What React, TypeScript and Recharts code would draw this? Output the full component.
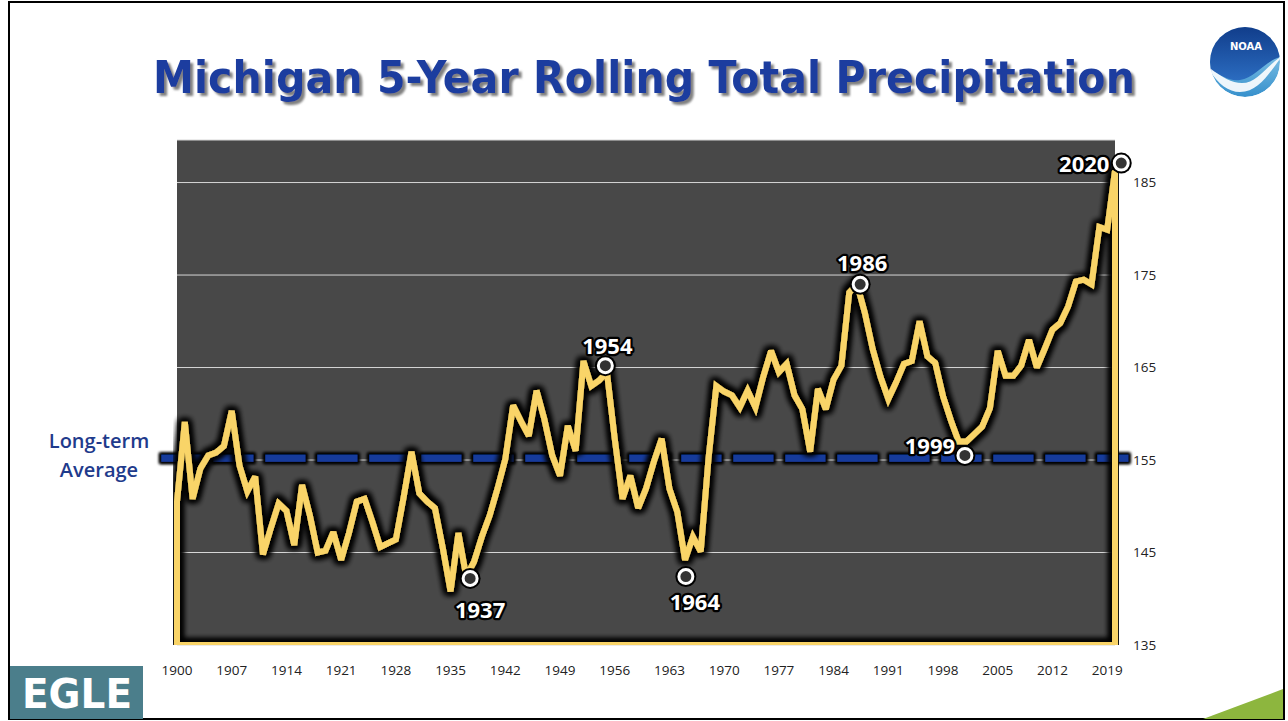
import React from "react";
import {
  ComposedChart,
  Line,
  XAxis,
  YAxis,
  CartesianGrid,
  ReferenceLine,
  ReferenceDot,
} from "recharts";

// 5-year rolling total precipitation (inches), 1900-2020
const years: number[] = Array.from({ length: 121 }, (_, i) => 1900 + i);
const precipitation: number[] = [
  150.5, 159.1, 150.8, 154.1, 155.5, 155.8, 156.5, 160.3, 154.4, 151.6,
  153.2, 144.8, 147.6, 150.3, 149.5, 145.8, 152.3, 149.0, 145.0, 145.2,
  147.2, 144.2, 147.1, 150.5, 150.8, 148.3, 145.6, 146.0, 146.4, 151.0,
  155.9, 151.4, 150.5, 149.8, 145.5, 140.8, 147.1, 142.4, 144.0, 146.7,
  149.0, 151.9, 155.1, 160.9, 159.2, 157.6, 162.5, 159.4, 155.5, 153.3,
  158.7, 156.0, 165.7, 163.0, 163.6, 164.5, 157.3, 150.8, 153.3, 149.8,
  151.9, 154.8, 157.3, 151.9, 149.4, 144.2, 146.7, 145.1, 155.2, 163.0,
  162.4, 162.0, 160.7, 162.5, 160.7, 164.0, 166.8, 164.5, 165.4, 162.0,
  160.5, 155.9, 162.7, 160.5, 163.7, 165.2, 173.1, 174.0, 170.9, 167.0,
  164.0, 161.6, 163.4, 165.4, 165.7, 170.0, 166.2, 165.5, 161.9, 159.3,
  157.0, 157.0, 157.8, 158.6, 160.6, 166.8, 164.1, 164.1, 165.2, 168.0,
  165.0, 167.0, 169.1, 169.8, 171.6, 174.3, 174.5, 174.0, 180.2, 179.9,
  186.3,
];
const longTermAverage = 155.2;

const xTicks = [
  1900, 1907, 1914, 1921, 1928, 1935, 1942, 1949, 1956, 1963, 1970, 1977,
  1984, 1991, 1998, 2005, 2012, 2019,
];
const yTicks = [135, 145, 155, 165, 175, 185];

// circled years
const highlightLabels = ["1937", "1954", "1964", "1986", "1999", "2020"];
const highlightYears = [1937.5, 1954.8, 1965.1, 1987.4, 2000.8, 2020.8];
const highlightValues = [142.2, 165.2, 142.4, 174.0, 155.5, 187.1];

const Y_MIN = 135;
const Y_MAX = 189.6;
const X_MIN = years[0];
const X_MAX = years[years.length - 1];

const YELLOW = "#f9d468";
const NAVY = "#173a9b";

const CHART_W = 1288;
const CHART_H = 721;
const MARGIN = { top: 140, left: 177, right: 128, bottom: 46 };
const tickFont = { fill: "#222", fontSize: 13.5, fontFamily: "'Open Sans', sans-serif" };

// where each year label sits relative to its circle
const labelOffset: Record<string, [number, number]> = {
  "1937": [10, 32],
  "1954": [2, -20],
  "1964": [9, 26],
  "1986": [2, -21],
  "1999": [-35, -9],
  "2020": [-37, 1],
};

const HighlightMarker = (props: any) => {
  const { cx, cy, label } = props;
  const [dx, dy] = labelOffset[label] ?? [0, -20];
  return (
    <g>
      <text
        x={cx + dx}
        y={cy + dy}
        dy="0.36em"
        textAnchor="middle"
        fill="#fff"
        stroke="#000"
        strokeWidth={4.5}
        strokeLinejoin="round"
        paintOrder="stroke"
        fontFamily="'Open Sans', sans-serif"
        fontWeight={700}
        fontSize={22}
      >
        {label}
      </text>
      <circle cx={cx} cy={cy} r={10.5} fill="#000" />
      <circle cx={cx} cy={cy} r={7} fill="#333" stroke="#fff" strokeWidth={3} />
    </g>
  );
};

// both chart layers share exactly the same axes so they line up
const axes = (showTicks: boolean) => [
  <XAxis
    key="x"
    type="number"
    dataKey="year"
    domain={[X_MIN, X_MAX]}
    ticks={xTicks}
    axisLine={false}
    tickLine={false}
    tickMargin={14}
    height={30}
    tick={showTicks ? tickFont : false}
  />,
  <YAxis
    key="y"
    orientation="right"
    type="number"
    domain={[Y_MIN, Y_MAX]}
    ticks={yTicks}
    axisLine={false}
    tickLine={false}
    tickMargin={12}
    width={45}
    allowDataOverflow
    tick={showTicks ? { ...tickFont, textAnchor: "start" } : false}
  />,
];

export default function App() {
  const series = years.map((year, i) => ({ year, value: precipitation[i] }));
  // trace the series and close it along the baseline, like the outlined area in the slide
  const outline = [
    { year: X_MIN, value: Y_MIN },
    ...series,
    { year: X_MAX, value: Y_MIN },
    { year: X_MIN, value: Y_MIN },
  ];

  return (
    <div style={{ position: "absolute", left: 0, top: 0, width: CHART_W, height: CHART_H, background: "#fff" }}>
      <style>{`
        .outline-line .recharts-line-curve { filter: url(#lineGlow); }
        .recharts-reference-line line { filter: url(#dashGlow); }
      `}</style>

      <svg width={CHART_W} height={CHART_H} style={{ position: "absolute", left: 0, top: 0 }}>
        <defs>
          <filter id="lineGlow" filterUnits="userSpaceOnUse" x={173} y={110} width={946} height={539}>
            <feMorphology in="SourceAlpha" operator="dilate" radius={2.2} result="thick" />
            <feGaussianBlur in="thick" stdDeviation={3.2} result="blur" />
            <feMerge>
              <feMergeNode in="blur" />
              <feMergeNode in="blur" />
              <feMergeNode in="blur" />
              <feMergeNode in="SourceGraphic" />
            </feMerge>
          </filter>
          <filter id="dashGlow" filterUnits="userSpaceOnUse" x={0} y={0} width={CHART_W} height={CHART_H}>
            <feMorphology in="SourceAlpha" operator="dilate" radius={2} result="thick" />
            <feGaussianBlur in="thick" stdDeviation={1.5} result="blur" />
            <feMerge>
              <feMergeNode in="blur" />
              <feMergeNode in="blur" />
              <feMergeNode in="SourceGraphic" />
            </feMerge>
          </filter>
          <filter id="titleShadow" x="-5%" y="-30%" width="110%" height="160%">
            <feDropShadow dx={3} dy={3} stdDeviation={1} floodColor="#808080" floodOpacity={1} />
          </filter>
          <linearGradient id="noaaTop" x1="0" y1="0" x2="0" y2="1">
            <stop offset="0" stopColor="#0d3784" />
            <stop offset="1" stopColor="#2b6cc0" />
          </linearGradient>
          <linearGradient id="noaaBottom" x1="0" y1="0" x2="0" y2="1">
            <stop offset="0" stopColor="#a9dcf3" />
            <stop offset="1" stopColor="#3690cc" />
          </linearGradient>
          <clipPath id="noaaClip">
            <circle cx={1245} cy={62} r={35} />
          </clipPath>
        </defs>

        {/* slide frame */}
        <rect x={9} y={2} width={1275} height={717} fill="none" stroke="#000" strokeWidth={2} />

        {/* title */}
        <text
          x={153}
          y={93}
          textLength={982}
          lengthAdjust="spacingAndGlyphs"
          fill="#1c3d9f"
          filter="url(#titleShadow)"
          fontFamily="'DejaVu Sans', sans-serif"
          fontWeight={700}
          fontSize={45}
        >
          Michigan 5-Year Rolling Total Precipitation
        </text>

        {/* NOAA logo */}
        <g clipPath="url(#noaaClip)">
          <circle cx={1245} cy={62} r={35} fill="url(#noaaBottom)" />
          <path
            d="M1205,20 H1285 V56 C1266,58 1256,78 1240,80 C1228,82 1218,73 1205,67 Z"
            fill="url(#noaaTop)"
          />
          <path
            d="M1207,66 C1220,76 1231,83 1242,83 C1257,83 1266,66 1282,56 C1270,72 1259,92 1240,92 C1227,92 1216,82 1207,66 Z"
            fill="#fff"
            opacity={0.9}
          />
        </g>
        <text x={1246} y={50} textAnchor="middle" fill="#fff" fontFamily="'DejaVu Sans', sans-serif" fontWeight={700} fontSize={10}>
          NOAA
        </text>

        {/* long-term average caption */}
        <text textAnchor="middle" fill="#1f3b8c" fontFamily="'Open Sans', sans-serif" fontWeight={600} fontSize={20}>
          <tspan x={99} y={448}>Long-term</tspan>
          <tspan x={99} y={477}>Average</tspan>
        </text>

        {/* EGLE logo */}
        <rect x={10} y={666} width={133} height={53} fill="#4b7e8b" />
        <text
          x={22}
          y={708}
          textLength={110}
          lengthAdjust="spacingAndGlyphs"
          fill="#fff"
          fontFamily="'DejaVu Sans', sans-serif"
          fontWeight={700}
          fontSize={40}
        >
          EGLE
        </text>

        {/* corner accent */}
        <polygon points="1203,719 1283,689 1283,719" fill="#8db63e" />
      </svg>

      {/* lower layer: plot background, gridlines, ticks and the dashed long-term average */}
      <div style={{ position: "absolute", left: 0, top: 0 }}>
        <ComposedChart width={CHART_W} height={CHART_H} data={outline} margin={MARGIN}>
          <CartesianGrid vertical={false} stroke="#d6d6d6" strokeWidth={1} fill="#484848" />
          {axes(true)}
          <ReferenceLine
            segment={[
              { x: X_MIN - 2, y: longTermAverage },
              { x: X_MAX + 1.7, y: longTermAverage },
            ]}
            ifOverflow="visible"
            stroke={NAVY}
            strokeWidth={7}
            strokeDasharray="40 12"
          />
        </ComposedChart>
      </div>

      {/* upper layer: the precipitation outline and the circled years */}
      <div style={{ position: "absolute", left: 0, top: 0 }}>
        <ComposedChart width={CHART_W} height={CHART_H} data={outline} margin={MARGIN}>
          {axes(false)}
          <Line
            className="outline-line"
            type="linear"
            dataKey="value"
            stroke={YELLOW}
            strokeWidth={6}
            strokeMiterlimit={3}
            dot={false}
            activeDot={false}
            isAnimationActive={false}
          />
          {highlightLabels.map((label, i) => (
            <ReferenceDot
              key={label}
              x={highlightYears[i]}
              y={highlightValues[i]}
              r={8}
              ifOverflow="visible"
              shape={(p: any) => <HighlightMarker {...p} label={label} />}
            />
          ))}
        </ComposedChart>
      </div>
    </div>
  );
}
